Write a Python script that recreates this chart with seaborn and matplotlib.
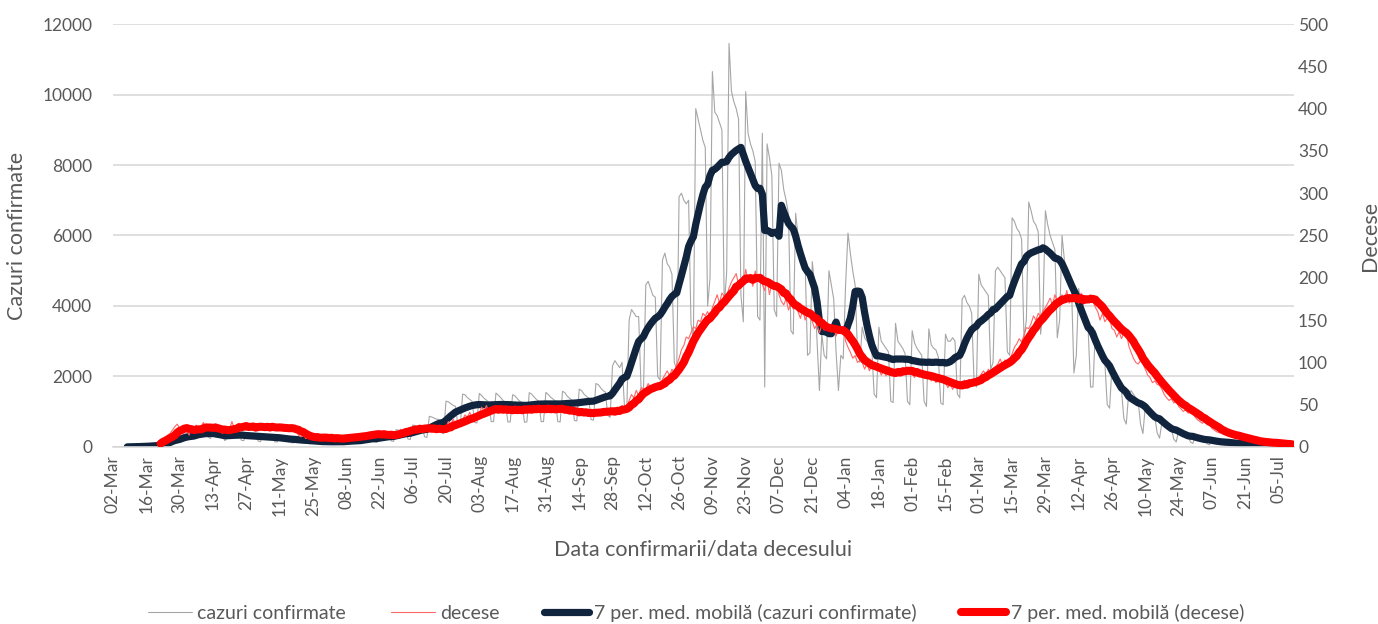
import numpy as np
import pandas as pd
import seaborn as sns
import matplotlib
matplotlib.use("Agg")
import matplotlib.pyplot as plt

# first day of each series
start_date = "2020-03-02"
deaths_start_date = "2020-03-22"

# daily confirmed cases, one row per week (Mon..Sun)
cazuri = [
    1, 0, 1, 2, 4, 3, 3,
    9, 10, 14, 17, 20, 18, 17,
    29, 35, 45, 44, 56, 54, 52,
    143, 150, 190, 250, 260, 230, 170,
    250, 320, 360, 370, 350, 280, 240,
    400, 450, 440, 430, 420, 280, 240,
    420, 370, 360, 340, 330, 180, 240,
    440, 410, 380, 360, 350, 190, 180,
    400, 380, 350, 330, 320, 170, 150,
    360, 340, 310, 300, 290, 150, 140,
    300, 280, 250, 240, 230, 120, 120,
    240, 230, 210, 200, 190, 100, 90,
    200, 190, 170, 165, 160, 85, 80,
    190, 185, 175, 170, 165, 85, 80,
    230, 220, 210, 200, 190, 110, 100,
    300, 300, 280, 270, 260, 140, 130,
    380, 370, 350, 340, 330, 170, 160,
    490, 480, 450, 440, 430, 230, 210,
    620, 610, 580, 570, 560, 290, 270,
    870, 850, 820, 790, 780, 410, 380,
    1300, 1280, 1230, 1180, 1150, 620, 590,
    1500, 1480, 1400, 1350, 1290, 700, 680,
    1520, 1460, 1380, 1330, 1270, 720, 720,
    1530, 1470, 1400, 1320, 1260, 710, 710,
    1480, 1450, 1370, 1300, 1250, 700, 710,
    1540, 1500, 1420, 1350, 1290, 720, 720,
    1550, 1490, 1410, 1360, 1300, 720, 710,
    1580, 1540, 1440, 1380, 1320, 750, 740,
    1640, 1600, 1500, 1440, 1380, 780, 760,
    1800, 1770, 1680, 1600, 1560, 900, 840,
    2300, 2450, 2350, 2250, 2400, 1200, 1050,
    3600, 3900, 3800, 3700, 3700, 1700, 1510,
    4600, 4700, 4500, 4300, 4250, 2000, 1900,
    5300, 5500, 5200, 5100, 4900, 2400, 2190,
    7100, 7200, 7000, 6900, 7000, 3500, 3020,
    9600, 9300, 9000, 8700, 8500, 4000, 4800,
    10650, 9500, 9400, 9200, 9000, 4000, 4950,
    11450, 10100, 9800, 9600, 9300, 4300, 3550,
    10080, 8900, 8600, 8400, 8100, 3700, 3600,
    8900, 1700, 8600, 8200, 7700, 3900, 3700,
    8050, 7850, 7300, 7000, 6600, 3300, 3200,
    6630, 6000, 5700, 5500, 5200, 2600, 2670,
    5260, 4600, 3000, 1600, 3200, 2600, 2500,
    5000, 4600, 4200, 2700, 1600, 2600, 2500,
    4600, 6070, 5500, 5000, 4600, 2700, 2400,
    3400, 3100, 3000, 2900, 2800, 1500, 1400,
    3400, 3000, 2900, 2800, 2700, 1300, 1260,
    3510, 3000, 2900, 2800, 2650, 1300, 1200,
    3300, 2950, 2800, 2700, 2600, 1300, 1150,
    3350, 2900, 2800, 2750, 2550, 1250, 1200,
    3200, 3000, 3000, 3100, 3000, 1500, 1400,
    4200, 4300, 4100, 4000, 3800, 1900, 1700,
    4900, 4600, 4500, 4400, 4300, 2200, 2400,
    5000, 5100, 5000, 4900, 4800, 2700, 2600,
    6500, 6400, 6200, 6100, 5900, 3100, 3600,
    6950, 6700, 6400, 6300, 6100, 3200, 3900,
    6700, 6300, 6000, 5800, 5600, 3100, 3600,
    6000, 5300, 4900, 4700, 4500, 2100, 2600,
    4500, 4000, 3700, 3500, 3300, 1700, 1700,
    3300, 2900, 2700, 2500, 2400, 1200, 1100,
    2300, 2000, 1800, 1700, 1600, 800, 650,
    1500, 1600, 1500, 1400, 1300, 650, 380,
    1150, 1050, 1000, 900, 850, 400, 250,
    700, 650, 600, 550, 500, 220, 140,
    450, 400, 370, 340, 300, 140, 100,
    300, 270, 250, 230, 200, 90, 60,
    210, 190, 170, 160, 140, 60, 50,
    150, 135, 120, 110, 100, 45, 40,
    90, 80, 75, 70, 60, 25, 20,
    60, 55, 50, 45, 40, 20, 10,
    50, 50, 45, 40, 35, 15, 10,
]

# daily deaths from 22-Mar-2020 (first one is a Sunday, then Mon..Sun rows)
decese = [
    4,
    8, 10, 14, 16, 20, 24, 27,
    22, 18, 25, 20, 14, 21, 20,
    26, 20, 24, 29, 22, 20, 20,
    22, 25, 18, 23, 16, 20, 16,
    21, 30, 22, 26, 28, 20, 21,
    26, 22, 24, 28, 19, 25, 24,
    24, 20, 27, 22, 25, 21, 22,
    25, 19, 24, 21, 23, 22, 20,
    18, 14, 12, 15, 10, 11, 11,
    12, 10, 13, 9, 11, 12, 10,
    9, 12, 8, 11, 10, 9, 11,
    11, 14, 10, 13, 12, 11, 13,
    14, 16, 13, 17, 15, 14, 16,
    15, 13, 16, 12, 14, 15, 13,
    16, 18, 21, 17, 22, 19, 20,
    21, 24, 20, 25, 19, 23, 22,
    22, 19, 24, 18, 23, 21, 20,
    24, 30, 26, 33, 27, 29, 27,
    32, 38, 35, 41, 33, 37, 36,
    40, 47, 42, 49, 41, 45, 44,
    46, 41, 48, 43, 45, 40, 45,
    42, 47, 43, 46, 41, 48, 41,
    47, 42, 49, 44, 46, 43, 44,
    44, 48, 43, 47, 42, 46, 45,
    45, 40, 44, 39, 43, 41, 42,
    38, 43, 39, 41, 37, 42, 40,
    41, 44, 40, 45, 39, 43, 42,
    43, 40, 47, 44, 49, 45, 47,
    55, 62, 58, 67, 60, 70, 69,
    68, 75, 70, 74, 69, 76, 72,
    80, 85, 90, 84, 92, 88, 97,
    105, 115, 120, 130, 128, 135, 142,
    140, 150, 148, 158, 155, 160, 153,
    165, 172, 180, 170, 182, 178, 178,
    188, 195, 200, 205, 192, 198, 194,
    210, 195, 204, 190, 208, 196, 197,
    192, 185, 198, 180, 194, 187, 194,
    180, 172, 168, 175, 162, 170, 163,
    165, 160, 152, 163, 150, 158, 158,
    148, 140, 145, 135, 144, 138, 144,
    140, 136, 142, 131, 139, 135, 143,
    125, 118, 112, 105, 108, 100, 102,
    100, 92, 98, 90, 96, 94, 95,
    92, 85, 90, 84, 89, 86, 90,
    88, 93, 86, 94, 89, 91, 89,
    88, 82, 87, 83, 86, 84, 85,
    84, 78, 82, 76, 81, 79, 80,
    76, 70, 75, 68, 74, 72, 76,
    74, 79, 72, 80, 76, 78, 80,
    82, 86, 90, 85, 92, 88, 93,
    95, 98, 104, 97, 103, 100, 103,
    110, 118, 122, 128, 124, 132, 141,
    140, 146, 155, 150, 158, 154, 161,
    165, 170, 176, 168, 180, 172, 173,
    180, 172, 185, 170, 178, 174, 173,
    170, 182, 168, 178, 175, 180, 172,
    165, 160, 150, 158, 148, 152, 152,
    140, 138, 130, 136, 128, 135, 138,
    120, 112, 105, 100, 98, 102, 98,
    92, 85, 82, 76, 78, 74, 73,
    68, 62, 58, 55, 57, 52, 54,
    48, 45, 42, 44, 40, 41, 41,
    35, 32, 30, 28, 31, 26, 28,
    22, 20, 18, 17, 16, 15, 18,
    14, 13, 12, 11, 12, 10, 12,
    9, 8, 7, 6, 7, 6, 6,
    6, 5, 5, 4, 5, 4, 6,
    4, 3, 3, 2, 3, 3, 3,
]

dates = pd.date_range(start_date, periods=len(cazuri), freq="D")
df = pd.DataFrame({"data": dates, "cazuri": cazuri})
df["zi"] = np.arange(len(df))
deaths = pd.Series(decese, index=pd.date_range(deaths_start_date, periods=len(decese), freq="D"))
df["decese"] = deaths.reindex(dates).values

# 7 day moving averages
df["cazuri_mm"] = df["cazuri"].rolling(7).mean()
df["decese_mm"] = df["decese"].rolling(7, min_periods=1).mean()

sns.set_style("white")
plt.rcParams["font.family"] = ["Lato", "DejaVu Sans"]
text_col = "#595959"

fig = plt.figure(figsize=(13.78, 6.24), dpi=100)
ax = fig.add_axes([0.082, 0.2837, 0.857, 0.6778])
ax2 = ax.twinx()

lbl_c = "cazuri confirmate"
lbl_d = "decese"
lbl_cm = "7 per. med. mobilă (cazuri confirmate)"
lbl_dm = "7 per. med. mobilă (decese)"

sns.lineplot(data=df, x="zi", y="cazuri", ax=ax, color="#A6A6A6", lw=0.8, label=lbl_c)
sns.lineplot(data=df, x="zi", y="cazuri_mm", ax=ax, color="#10243E", lw=5.2, label=lbl_cm,
             solid_capstyle="round", solid_joinstyle="round")
sns.lineplot(data=df, x="zi", y="decese", ax=ax2, color="#FF6666", lw=0.8, label=lbl_d)
sns.lineplot(data=df, x="zi", y="decese_mm", ax=ax2, color="#FF0000", lw=5.8, label=lbl_dm,
             solid_capstyle="round", solid_joinstyle="round")

for a in (ax, ax2):
    if a.get_legend() is not None:
        a.get_legend().remove()
    for s in a.spines.values():
        s.set_visible(False)
    a.tick_params(length=0, labelsize=12.5, labelcolor=text_col)

ax.spines["bottom"].set_visible(True)
ax.spines["bottom"].set_color("#D9D9D9")
ax.spines["bottom"].set_linewidth(1.2)

ax.set_ylim(0, 12000)
ax.set_yticks(range(0, 12001, 2000))
ax.yaxis.grid(True, color="#D9D9D9", lw=1.2)
ax.set_axisbelow(True)
ax2.set_ylim(0, 500)
ax2.set_yticks(range(0, 501, 50))
ax2.grid(False)

tick_days = df["zi"][::14]
ax.set_xlim(0, len(df) - 0.5)
ax.set_xticks(tick_days)
ax.set_xticklabels(df["data"][::14].dt.strftime("%d-%b"), rotation=90)
ax.tick_params(axis="x", pad=6)
ax.tick_params(axis="y", pad=15)
ax2.tick_params(axis="y", pad=3)

ax.set_xlabel("Data confirmarii/data decesului", fontsize=15.5, color=text_col)
ax.xaxis.set_label_coords(0.5, -0.218)
ax.set_ylabel("Cazuri confirmate", fontsize=15.5, color=text_col)
ax.yaxis.set_label_coords(-0.073, 0.5)
ax2.set_ylabel("Decese", fontsize=15.5, color=text_col)
ax2.yaxis.set_label_coords(1.056, 0.5)

h1, l1 = ax.get_legend_handles_labels()
h2, l2 = ax2.get_legend_handles_labels()
hd = dict(zip(l1 + l2, h1 + h2))
order = [lbl_c, lbl_d, lbl_cm, lbl_dm]
fig.legend([hd[k] for k in order], order, loc="lower center", ncol=4, frameon=False,
           bbox_to_anchor=(0.505, -0.025), fontsize=14, handlelength=2.3,
           handletextpad=0.25, columnspacing=2.3, labelcolor=text_col)

fig.savefig("out.png", dpi=100)
